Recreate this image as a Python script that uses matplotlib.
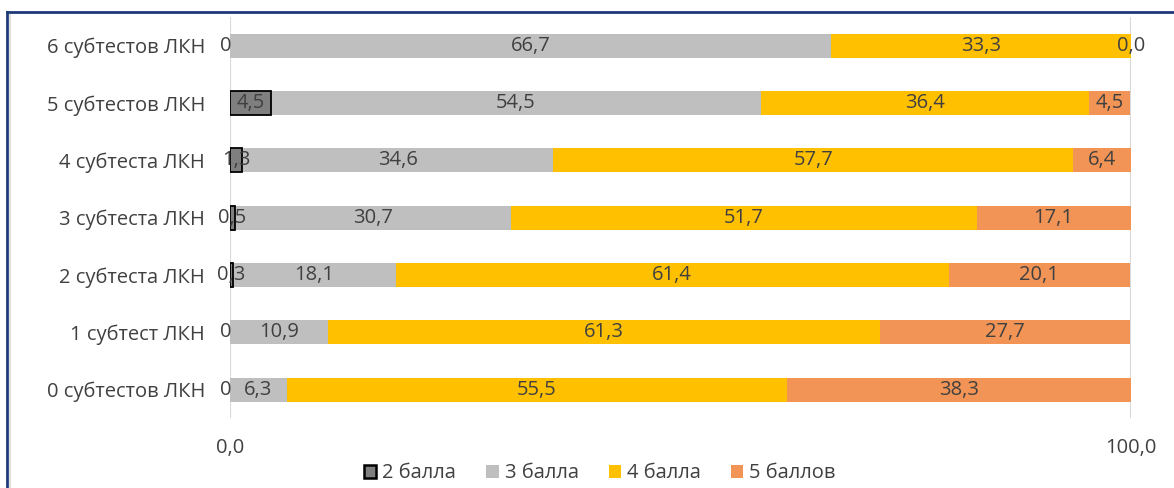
import matplotlib.pyplot as plt
from matplotlib.lines import Line2D
from matplotlib.patches import Patch

plt.rcParams['font.family'] = ['Open Sans', 'DejaVu Sans']

categories = ["0 субтестов ЛКН", "1 субтест ЛКН", "2 субтеста ЛКН", "3 субтеста ЛКН",
              "4 субтеста ЛКН", "5 субтестов ЛКН", "6 субтестов ЛКН"]
series_names = ["2 балла", "3 балла", "4 балла", "5 баллов"]
ball2 = [0, 0, 0.3, 0.5, 1.3, 4.5, 0]
ball3 = [6.3, 10.9, 18.1, 30.7, 34.6, 54.5, 66.7]
ball4 = [55.5, 61.3, 61.4, 51.7, 57.7, 36.4, 33.3]
ball5 = [38.3, 27.7, 20.1, 17.1, 6.4, 4.5, 0.0]

colors = ["#7f7f7f", "#bfbfbf", "#ffc000", "#f19455"]
text_color = "#404040"
fs = 14.5


def fmt(v, series_idx):
    if v == 0 and series_idx == 0:
        return "0"
    return f"{v:.1f}".replace(".", ",")


fig = plt.figure(figsize=(11.74, 4.88), dpi=100)
ax = fig.add_axes([0.196, 0.143, 0.767, 0.822])

y = list(range(len(categories)))
left = [0.0] * len(categories)
for i, (name, vals) in enumerate(zip(series_names, [ball2, ball3, ball4, ball5])):
    if i == 0:
        bars = ax.barh(y, vals, left=left, height=0.42, color=colors[i], edgecolor="black",
                       linewidth=1.3, zorder=3)
        for p, v in zip(bars.patches, vals):
            p.set_visible(v > 0)
    else:
        ax.barh(y, vals, left=left, height=0.42, color=colors[i], zorder=2)
    for k, v in enumerate(vals):
        x = left[k] + v / 2
        if v == 0:
            x = left[k] - 0.45 if i == 0 else left[k] + 0.1
        ax.text(x, y[k], fmt(v, i), ha="center", va="center", fontsize=fs,
                color=text_color, zorder=5, clip_on=False)
    left = [a + b for a, b in zip(left, vals)]

ax.set_xlim(0, 100)
ax.set_ylim(-0.5, len(categories) - 0.5)
ax.set_yticks(y)
ax.set_yticklabels(categories, fontsize=fs, color=text_color)
ax.set_xticks([0, 100])
ax.set_xticklabels(["0,0", "100,0"], fontsize=fs, color=text_color)
ax.tick_params(axis="x", length=0, pad=14)
ax.tick_params(axis="y", length=0, pad=18)
for s in ax.spines.values():
    s.set_visible(False)
ax.set_axisbelow(True)
ax.grid(axis="x", color="#d9d9d9", linewidth=1.5)

handles = [Patch(facecolor=colors[0], edgecolor="black", linewidth=1.8)]
handles += [Patch(facecolor=c) for c in colors[1:]]
fig.legend(handles, series_names, loc="center", bbox_to_anchor=(0.511, 0.03), ncol=4,
           frameon=False, fontsize=fs, labelcolor=text_color,
           handlelength=0.6, handleheight=0.6, handletextpad=0.3, columnspacing=1.5)

# frame from the source document
navy = "#1f3a78"
fig.add_artist(Line2D([7 / 1174, 1], [1 - 12 / 488] * 2, transform=fig.transFigure,
                      color=navy, linewidth=2))
fig.add_artist(Line2D([7 / 1174] * 2, [0, 1 - 12 / 488], transform=fig.transFigure,
                      color=navy, linewidth=2))
fig.add_artist(Line2D([10 / 1174] * 2, [0, 1 - 15 / 488], transform=fig.transFigure,
                      color="#e0e0e0", linewidth=1.5))

fig.savefig("out.png", dpi=100)
